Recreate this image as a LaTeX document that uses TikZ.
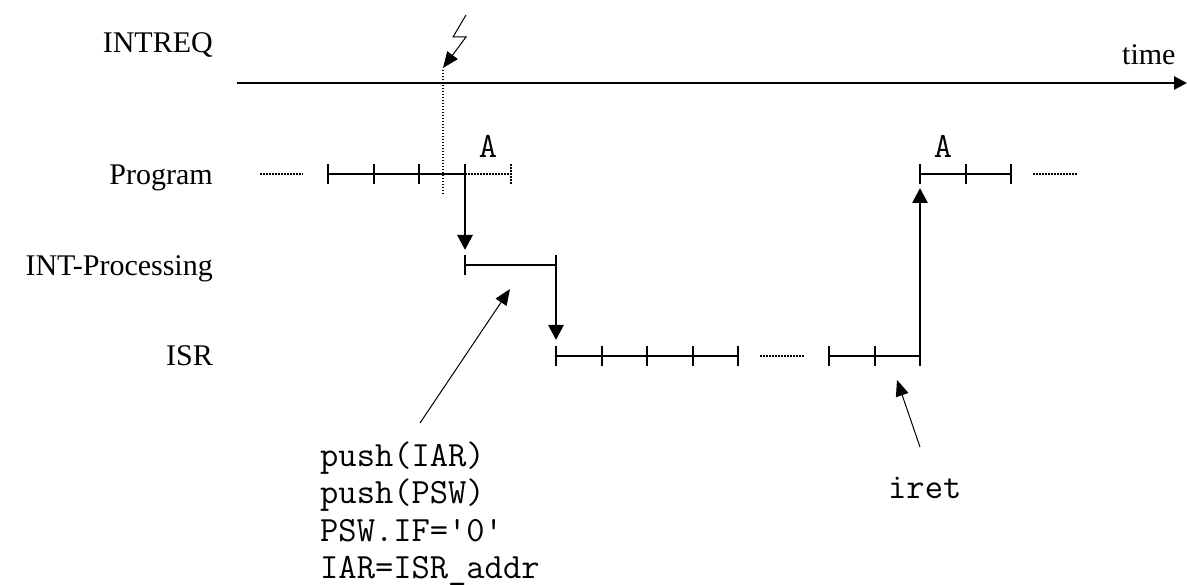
\documentclass[tikz,border=0pt]{standalone}
\usepackage{fontspec}
\setmainfont{Liberation Serif}
\usetikzlibrary{arrows.meta}
\begin{document}
\begin{tikzpicture}[x=1pt,y=-1pt,
  lbl/.style={font=\fontsize{30}{36}\selectfont, anchor=base east, inner sep=0pt},
  codetxt/.style={font=\ttfamily\fontsize{35.5}{38}\selectfont, anchor=base west, inner sep=0pt},
  marklbl/.style={font=\ttfamily\fontsize{35.5}{38}\selectfont, anchor=base, inner sep=0pt},
  seg/.style={line width=2.8pt},
  dots/.style={line width=1.6pt, dash pattern=on 1.5pt off 1.5pt},
  harrow/.style={line width=2.8pt, -{Triangle[length=15pt,width=15pt]}},
  thinarrow/.style={line width=1pt, -{Triangle[length=16pt,width=13pt]}}
]
\useasboundingbox (0,0) rectangle (1187,585);

% row labels
\node[lbl] (intreq) at (213,53) {INTREQ};
\node[lbl] (prog) at (213,185) {Program};
\node[lbl] (intp) at (213,276) {INT-Processing};
\node[lbl] (isr) at (213,366) {ISR};
\node[font=\fontsize{30}{36}\selectfont, anchor=base west, inner sep=0pt] (time) at (1122,65) {time};

% time axis
\coordinate (t0) at (237,83);
\coordinate (t1) at (1187,83);
\draw[line width=2.8pt,-{Triangle[length=13pt,width=13pt]}] (t0) -- (t1);

% interrupt request lightning
\coordinate (l0) at (466,15);
\coordinate (l1) at (453,37);
\coordinate (l2) at (466,37);
\coordinate (l3) at (443,68);
\draw[thinarrow, line join=miter] (l0) -- (l1) -- (l2) -- (l3);
\coordinate (d0) at (443,70);
\coordinate (d1) at (443,195);
\draw[dots] (d0) -- (d1);

% Program row (left part)
\coordinate (p0) at (260,174);
\coordinate (p1) at (303,174);
\coordinate (pa) at (328,174);
\coordinate (pb) at (374,174);
\coordinate (pc) at (419,174);
\coordinate (pd) at (465,174);
\coordinate (pe) at (511,174);
\draw[dots] (p0) -- (p1);
\draw[seg] (pa) -- (pd);
\foreach \c in {pa,pb,pc} \draw[seg] ([yshift=-10pt]\c) -- ([yshift=10pt]\c);
\draw[dots] (pd) -- (pe);
\draw[dots] ([yshift=-10pt]pe) -- ([yshift=10pt]pe);
\node[marklbl] (A1) at (488,158) {A};

% Program -> INT-Processing
\coordinate (ia) at (465,265);
\coordinate (ib) at (556,265);
\draw[harrow] ([yshift=10pt]pd) -- ([yshift=15pt]ia);
\draw[seg] ([yshift=10pt]ia) -- ([yshift=-10pt]ia);
\draw[seg] (ia) -- (ib);

% INT-Processing -> ISR
\coordinate (sa) at (556,356);
\coordinate (sb) at (602,356);
\coordinate (sc) at (647,356);
\coordinate (sd) at (693,356);
\coordinate (se) at (738,356);
\coordinate (sf) at (760,356);
\coordinate (sg) at (805,356);
\coordinate (sh) at (829,356);
\coordinate (si) at (875,356);
\coordinate (sj) at (920,356);
\draw[harrow] ([yshift=10pt]ib) -- ([yshift=16pt]sa);
\draw[seg] (sa) -- (se);
\foreach \c in {sa,sb,sc,sd,se,sh,si} \draw[seg] ([yshift=-10pt]\c) -- ([yshift=10pt]\c);
\draw[dots] (sf) -- (sg);
\draw[seg] (sh) -- (sj);

% ISR -> Program (return)
\coordinate (ra) at (920,174);
\coordinate (rb) at (966,174);
\coordinate (rc) at (1011,174);
\coordinate (rd) at (1033,174);
\coordinate (re) at (1077,174);
\draw[harrow] ([yshift=-10pt]sj) -- ([yshift=-14pt]ra);
\draw[seg] (ra) -- (rc);
\foreach \c in {ra,rb,rc} \draw[seg] ([yshift=-10pt]\c) -- ([yshift=10pt]\c);
\draw[dots] (rd) -- (re);
\node[marklbl] (A2) at (943,158) {A};

% annotations
\node[codetxt] (c1) at (320,466) {push(IAR)};
\node[codetxt] (c2) at (320,503.5) {push(PSW)};
\node[codetxt] (c3) at (320,541) {PSW.IF='0'};
\node[codetxt] (c4) at (320,578.5) {IAR=ISR\_addr};
\node[codetxt] (iret) at (888,498) {iret};
\coordinate (n1a) at (420,423);
\coordinate (n1b) at (510,289);
\coordinate (n2a) at (920,447);
\coordinate (n2b) at (897,380);
\draw[thinarrow] (n1a) -- (n1b);
\draw[thinarrow] (n2a) -- (n2b);
\end{tikzpicture}
\end{document}
